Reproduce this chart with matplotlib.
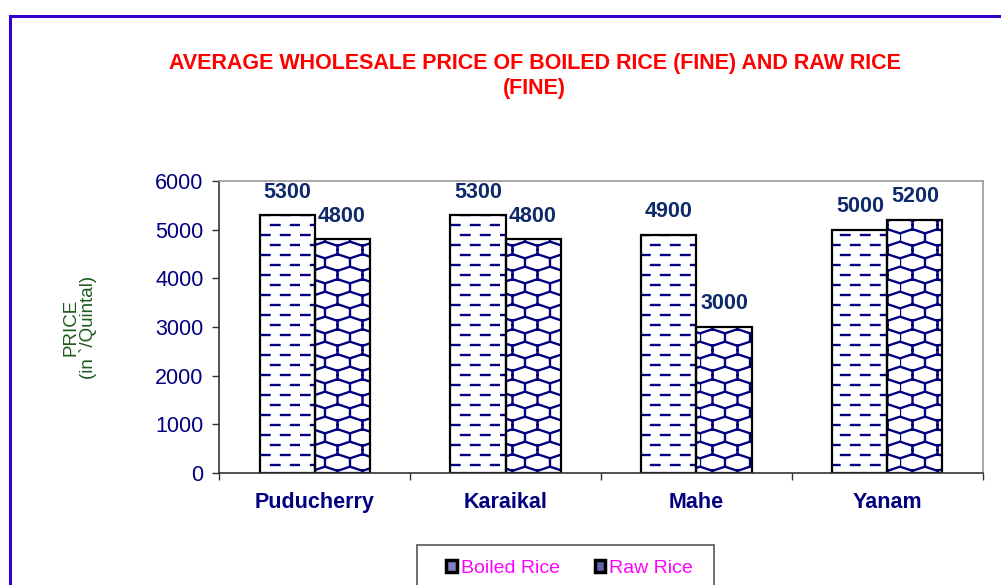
import numpy as np
import matplotlib
matplotlib.use("Agg")
import matplotlib.pyplot as plt
import matplotlib.hatch as mhatch
from matplotlib.path import Path
from matplotlib.patches import Patch, Rectangle

regions = ["Puducherry", "Karaikal", "Mahe", "Yanam"]
boiled_rice = [5300, 5300, 4900, 5000]
raw_rice = [4800, 4800, 3000, 5200]
yticks = [0, 1000, 2000, 3000, 4000, 5000, 6000]


# Excel-like fill patterns: short dashes for boiled rice, a mesh for raw rice
class DashHatch:
    rows, cols = 10, 5

    def __init__(self, hatch, density):
        self.on = '-' in hatch
        self.num_vertices = self.rows * self.cols * 2 if self.on else 0

    def set_vertices_and_codes(self, vertices, codes):
        i = 0
        for r in range(self.rows):
            y = (r + 0.5) / self.rows
            shift = 0.11 if r % 2 else 0.01
            for c in range(self.cols):
                x0 = c / self.cols + shift
                vertices[i] = (x0, y)
                vertices[i + 1] = (x0 + 0.085, y)
                codes[i] = Path.MOVETO
                codes[i + 1] = Path.LINETO
                i += 2


class MeshHatch:
    n = 4
    cell = [((0, 2/3), (0.5, 5/6)), ((0.5, 5/6), (1, 2/3)),
            ((1, 1/3), (0.5, 1/6)), ((0.5, 1/6), (0, 1/3)),
            ((0, 1/3), (0, 2/3)), ((0.5, 5/6), (0.5, 1)),
            ((0.5, 0), (0.5, 1/6))]

    def __init__(self, hatch, density):
        self.on = 'x' in hatch
        self.num_vertices = self.n * self.n * len(self.cell) * 2 if self.on else 0

    def set_vertices_and_codes(self, vertices, codes):
        i = 0
        for a in range(self.n):
            for b in range(self.n):
                for (x0, y0), (x1, y1) in self.cell:
                    vertices[i] = ((a + x0) / self.n, (b + y0) / self.n)
                    vertices[i + 1] = ((a + x1) / self.n, (b + y1) / self.n)
                    codes[i] = Path.MOVETO
                    codes[i + 1] = Path.LINETO
                    i += 2


mhatch._hatch_types[:] = [DashHatch, MeshHatch]

plt.rcParams['font.family'] = ['Liberation Sans', 'DejaVu Sans']
plt.rcParams['hatch.linewidth'] = 1.7

navy = '#000080'
fig = plt.figure(figsize=(10.01, 5.85), dpi=100)
ax = fig.add_axes([0.2188, 0.1915, 0.7632, 0.4991])

x = np.arange(len(regions))
w = 0.288
off = 0.144

# fill + pattern first, then black outline on top
ax.bar(x - off, boiled_rice, w, color='white', edgecolor=navy, linewidth=0, hatch='-')
ax.bar(x + off, raw_rice, w, color='white', edgecolor=navy, linewidth=0, hatch='x')
b1 = ax.bar(x - off, boiled_rice, w, fill=False, edgecolor='black', linewidth=1.6)
b2 = ax.bar(x + off, raw_rice, w, fill=False, edgecolor='black', linewidth=1.6)

for cont in (b1, b2):
    ax.bar_label(cont, padding=9, fontsize=15.5, fontweight='bold', color='#0E2A6B')

ax.set_xlim(-0.5, len(regions) - 0.5)
ax.set_ylim(0, 6000)
ax.set_yticks(yticks)
ax.set_yticklabels([str(v) for v in yticks], fontsize=15.5, color=navy)
ax.set_xticks(x)
ax.set_xticklabels(regions, fontsize=15.5, fontweight='bold', color=navy)
ax.tick_params(axis='x', length=0, pad=14)
ax.tick_params(axis='y', length=5, width=1, color='#333333', pad=6)
ax.set_xticks(np.arange(len(regions) + 1) - 0.5, minor=True)
ax.tick_params(axis='x', which='minor', length=5, width=1, color='#333333')

for s in ('top', 'right'):
    ax.spines[s].set_color('#9a9a9a')
    ax.spines[s].set_linewidth(1.2)
for s in ('left', 'bottom'):
    ax.spines[s].set_color('#333333')
    ax.spines[s].set_linewidth(1.2)

ax.set_ylabel("PRICE\n(in `/Quintal)", fontsize=13.5, color='#1E5A1E', labelpad=42,
              linespacing=1.0)

fig.text(0.534, 0.870, "AVERAGE WHOLESALE PRICE OF BOILED RICE (FINE) AND RAW RICE\n(FINE)",
         ha='center', va='center', fontsize=15.5, fontweight='bold', color='#FF0000',
         linespacing=1.3)

# outer chart border (runs off the right and bottom of the image)
fig.patches.append(Rectangle((10 / 1001, -0.2), 1.2, 569 / 585 + 0.2, transform=fig.transFigure,
                             fill=False, edgecolor='#3300CC', linewidth=2.2, clip_on=False))
# legend frame
fig.patches.append(Rectangle((417 / 1001, -0.2), 297 / 1001, 40 / 585 + 0.2, transform=fig.transFigure,
                             fill=False, edgecolor='#555555', linewidth=1.2, clip_on=False))

handles = [Patch(facecolor='#8080c0', edgecolor='black', linewidth=2.5),
           Patch(facecolor='#6060b0', edgecolor='black', linewidth=2.5)]
fig.legend(handles, ["Boiled Rice", "Raw Rice"], loc='center', bbox_to_anchor=(0.569, 0.029),
           ncol=2, frameon=False, fontsize=14, labelcolor='#FF00FF', handlelength=0.55,
           handleheight=0.55, handletextpad=0.2, columnspacing=1.8)

fig.savefig("out.png", dpi=100)
